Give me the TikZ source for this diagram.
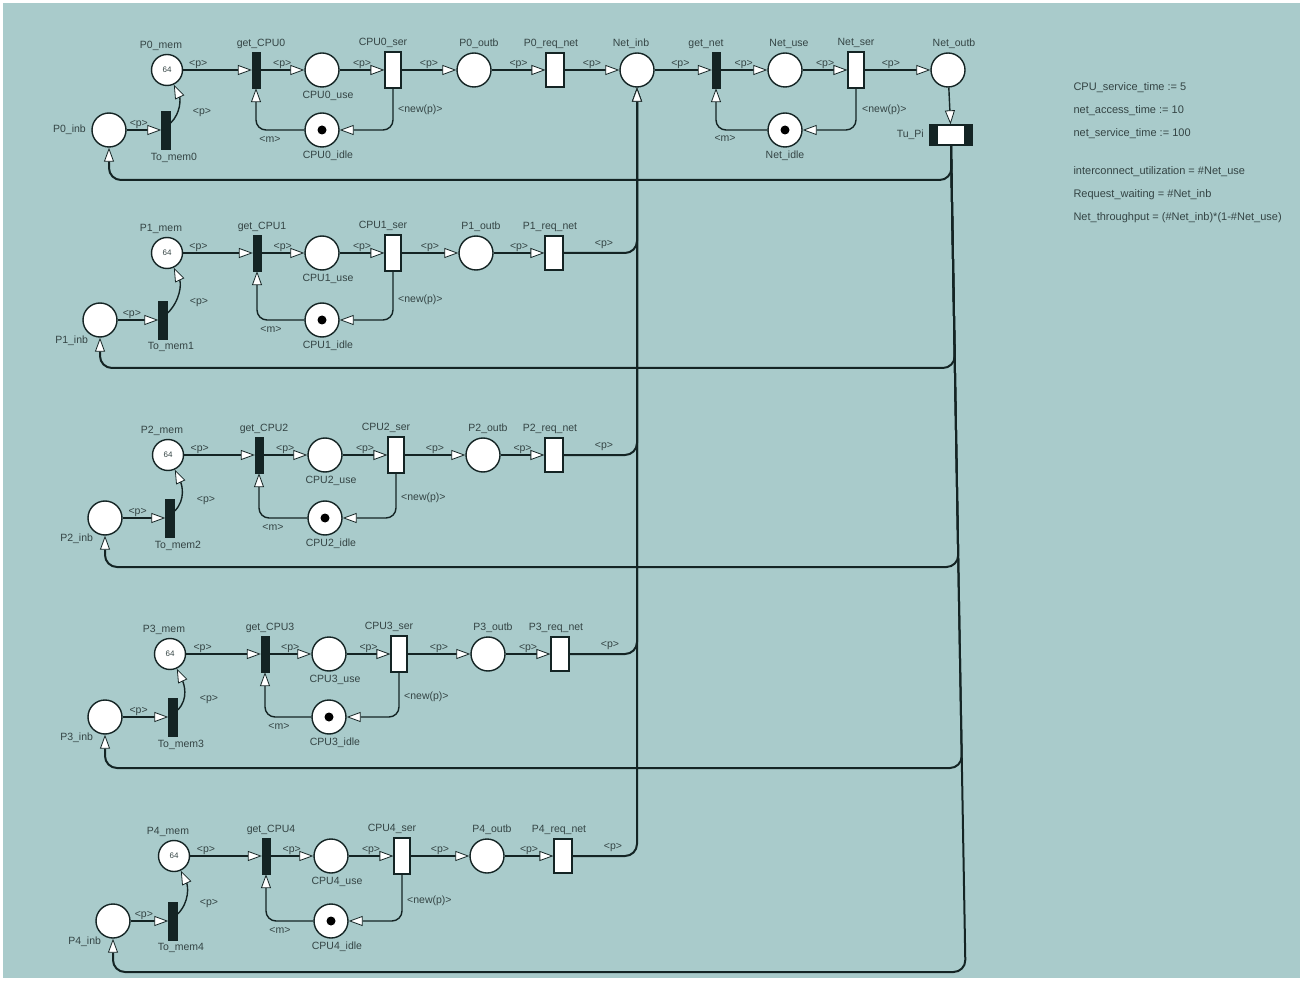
\documentclass[tikz,border=0pt]{standalone}
\usepackage{fontspec}
\setmainfont{Liberation Sans}
\usetikzlibrary{arrows.meta,calc}
\definecolor{bg}{HTML}{A9CBCB}
\definecolor{ln}{HTML}{142424}
\definecolor{tx}{HTML}{344444}
\begin{document}
\begin{tikzpicture}[x=1pt,y=-1pt,
 every node/.style={font=\fontsize{10.5}{12}\selectfont, text=tx},
 place/.style={circle, draw=ln, line width=1.4pt, fill=white, minimum size=34pt, inner sep=0pt},
 memplace/.style={place, minimum size=31pt, font=\fontsize{8}{9}\selectfont},
 bar/.style={rectangle, fill=ln, draw=ln, minimum width=8pt, minimum height=36pt, inner sep=0pt},
 wtrans/.style={rectangle, draw=ln, line width=1.1pt, fill=white, minimum width=16pt, minimum height=36pt, inner sep=0pt},
 arc/.style={draw=ln, line width=1.4pt, -{Triangle[length=14pt,width=10pt,fill=white,line width=0.8pt]}},
 thickarc/.style={arc, line width=2pt},
 lab/.style={inner sep=1pt},
 tok/.style={circle, fill=black, minimum size=9pt, inner sep=0pt},
 panel/.style={anchor=west, font=\fontsize{11}{12}\selectfont}
]
\useasboundingbox (0,0) rectangle (1304,981);
\fill[white] (0,0) rectangle (1304,981);
\fill[bg] (3,3) rectangle (1300,978);

% ---- network part ----
\node[place, label={[xshift=-6pt]above:Net\_inb}] (netinb) at (637,70) {};
\node[bar, label={[xshift=-10pt]above:get\_net}] (getnet) at (716,70) {};
\node[place, label={[xshift=4pt]above:Net\_use}] (netuse) at (785,70) {};
\node[wtrans, label={above:Net\_ser}] (netser) at (856,70) {};
\node[place, label={[xshift=6pt]above:Net\_outb}] (netoutb) at (948,70) {};
\node[place, label={below:Net\_idle}] (netidle) at (785,130) {};
\node[tok] (toknet) at (785,130) {};
\node[rectangle, draw=ln, line width=1.3pt, fill=white, minimum width=42pt, minimum height=20pt, inner sep=0pt,
  path picture={\fill[ln] (path picture bounding box.south west) rectangle ([xshift=8pt]path picture bounding box.north west);
                \fill[ln] (path picture bounding box.south east) rectangle ([xshift=-8pt]path picture bounding box.north east);},
  label={[xshift=-2pt]left:Tu\_Pi}] (tupi) at (951,135) {};

\draw[arc] (netinb) -- node[lab, above, pos=0.45] {<p>} (getnet);
\draw[arc] (getnet) -- node[lab, above] {<p>} (netuse);
\draw[arc] (netuse) -- node[lab, above] {<p>} (netser);
\draw[arc] (netser) -- node[lab, above, pos=0.4] {<p>} (netoutb);
\draw[arc, rounded corners=10pt] (netser.south) |- (netidle.east);
\node[lab, anchor=west] (npnet) at (861,110) {<new(p)>};
\draw[arc, rounded corners=10pt] (netidle.west) -| (getnet.south);
\node[lab] (mnet) at (725,138) {<m>};
\draw[arc] (netoutb) -- (tupi);

% ---- the five processor rows ----
\foreach \i/\y/\yb/\yr/\xi/\xt/\xm/\xg/\xu/\xs/\xo/\xq/\xc in {
 0/70/130/180/109/166/167/256/322/393/474/555/951.6,
 1/253/320/368/100/163/167/257/322/393/476/554/954.9,
 2/455/518/567/105/170/168/259/325/396/483/554/958.4,
 3/654/717/768/105/173/170/265/329/399/488/560/961.9,
 4/856/921/972/113/173/174/266/331/402/487/563/965.5}{
  \node[memplace, label={[xshift=-6pt]above:P\i\_mem}] (mem\i) at (\xm,\y) {64};
  \node[bar, label={[xshift=5pt]above:get\_CPU\i}] (get\i) at (\xg,\y) {};
  \node[place, label={[xshift=6pt]below:CPU\i\_use}] (use\i) at (\xu,\y) {};
  \node[wtrans, label={[xshift=-10pt]above:CPU\i\_ser}] (ser\i) at (\xs,\y) {};
  \node[place, label={[xshift=5pt]above:P\i\_outb}] (outb\i) at (\xo,\y) {};
  \node[wtrans, minimum width=18pt, minimum height=34pt, label={[xshift=-4pt]above:P\i\_req\_net}] (req\i) at (\xq,\y) {};
  \node[place, label={[xshift=6pt]below:CPU\i\_idle}] (idle\i) at (\xu,\yb) {};
  \node[tok] (tokidle\i) at (\xu,\yb) {};
  \ifnum\i=0
    \node[place, label={[xshift=-2pt]left:P\i\_inb}] (inb\i) at (\xi,\yb) {};
  \else
    \node[place, label={[xshift=4pt]below left:P\i\_inb}] (inb\i) at (\xi,\yb) {};
  \fi
  \node[bar, minimum width=9pt, minimum height=38pt, label={[xshift=8pt]below:To\_mem\i}] (tomem\i) at (\xt,\yb) {};

  \draw[arc] (inb\i) -- node[lab, above, pos=0.35] {<p>} (tomem\i);
  \draw[arc] ($(tomem\i.east)+(0,-7)$) to[out=45,in=-65] (mem\i);
  \node[lab] (pm\i) at (\xt+36,\yb-17) {<p>};
  \draw[arc] (mem\i) -- node[lab, above, pos=0.22] {<p>} (get\i);
  \draw[arc] (get\i) -- node[lab, above] {<p>} (use\i);
  \draw[arc] (use\i) -- node[lab, above] {<p>} (ser\i);
  \draw[arc] (ser\i) -- node[lab, above] {<p>} (outb\i);
  \draw[arc] (outb\i) -- node[lab, above] {<p>} (req\i);
  \draw[arc, rounded corners=10pt] (ser\i.south) |- (idle\i.east);
  \node[lab, anchor=west] (np\i) at (\xs+4,\yb-20) {<new(p)>};
  \draw[arc, rounded corners=10pt] (idle\i.west) -| (get\i.south);
  \node[lab] (m\i) at (\xg+14,\yb+9) {<m>};
  \ifnum\i=0
    \draw[arc] (req\i) -- node[lab, above] {<p>} (netinb);
  \else
    \draw[thickarc, rounded corners=12pt] (req\i.east) -| (netinb.south);
    \node[lab] (pq\i) at (\xq+50,\y-8) {<p>};
  \fi
  \coordinate (c\i) at (\xc,\yr);
  \coordinate (r\i) at (\xi,\yr);
  \draw[thickarc, rounded corners=12pt] (tupi.south) -- (c\i) -- (r\i) -- (inb\i.south);
}

% ---- declarations ----
\node[panel] (d1) at (1070,88) {CPU\_service\_time := 5};
\node[panel] (d2) at (1070,111) {net\_access\_time := 10};
\node[panel] (d3) at (1070,134) {net\_service\_time := 100};
\node[panel] (d4) at (1070,172) {interconnect\_utilization = \#Net\_use};
\node[panel] (d5) at (1070,195) {Request\_waiting = \#Net\_inb};
\node[panel] (d6) at (1070,218) {Net\_throughput = (\#Net\_inb)*(1-\#Net\_use)};
\end{tikzpicture}
\end{document}
